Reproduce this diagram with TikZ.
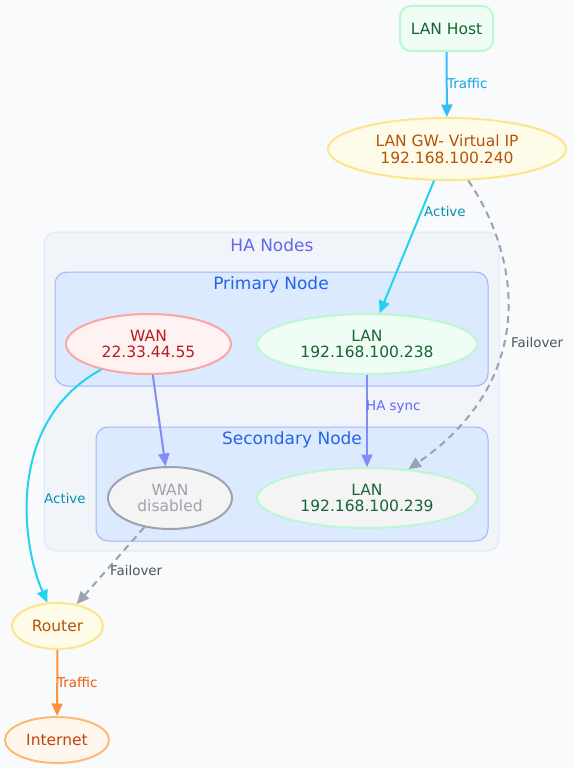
\documentclass[tikz,border=0pt]{standalone}
\usepackage{fontspec}
\setmainfont{DejaVu Sans}
\usetikzlibrary{shapes.geometric,arrows.meta}

\definecolor{cBg}{HTML}{F8FAFC}
\definecolor{cGreenFill}{HTML}{F0FDF4}
\definecolor{cGreenLine}{HTML}{BBF7D0}
\definecolor{cGreenTxt}{HTML}{166534}
\definecolor{cYellowFill}{HTML}{FEFCE8}
\definecolor{cYellowLine}{HTML}{FDE68A}
\definecolor{cYellowTxt}{HTML}{B45309}
\definecolor{cRedFill}{HTML}{FEF2F2}
\definecolor{cRedLine}{HTML}{FCA5A5}
\definecolor{cRedTxt}{HTML}{B91C1C}
\definecolor{cGrayFill}{HTML}{F4F4F5}
\definecolor{cGrayLine}{HTML}{9CA3AF}
\definecolor{cOrangeFill}{HTML}{FFF7ED}
\definecolor{cOrangeLine}{HTML}{FDBA74}
\definecolor{cOrangeTxt}{HTML}{C2410C}
\definecolor{cHaFill}{HTML}{F1F5F9}
\definecolor{cHaLine}{HTML}{E0E7FF}
\definecolor{cHaTxt}{HTML}{6366F1}
\definecolor{cNodeFill}{HTML}{DBEAFE}
\definecolor{cNodeLine}{HTML}{A5B4FC}
\definecolor{cNodeTxt}{HTML}{2563EB}
\definecolor{cTraffic}{HTML}{38BDF8}
\definecolor{cTrafficTxt}{HTML}{0EA5E9}
\definecolor{cActive}{HTML}{22D3EE}
\definecolor{cActiveTxt}{HTML}{0891B2}
\definecolor{cSync}{HTML}{818CF8}
\definecolor{cFail}{HTML}{9CA3AF}
\definecolor{cFailTxt}{HTML}{4B5563}
\definecolor{cWan}{HTML}{FB923C}
\definecolor{cWanTxt}{HTML}{EA580C}

\begin{document}
\begin{tikzpicture}[x=1pt,y=-1pt,
    every node/.style={font=\fontsize{15.5}{16.5}\selectfont, align=center, inner sep=0pt},
    oval/.style={ellipse, line width=2pt},
    cluster/.style={rounded corners=12pt, line width=1pt},
    flow/.style={line width=2pt, -{Triangle[length=12.5pt,width=11pt]}},
    failover/.style={flow, color=cFail, dash pattern=on 7pt off 5pt},
    edgelabel/.style={font=\fontsize{13.4}{14}\selectfont, anchor=west},
    clusterlabel/.style={font=\fontsize{17}{18}\selectfont}]
    \fill[cBg] (0,0) rectangle (574,768);
    \useasboundingbox (0,0) rectangle (574,768);

    \coordinate (H) at (446.5,28.5);
    \coordinate (G) at (447,149);
    \coordinate (W1) at (148.5,344);
    \coordinate (L1) at (367,344);
    \coordinate (W2) at (170,498);
    \coordinate (L2) at (367,498);
    \coordinate (R) at (57.5,626);
    \coordinate (I) at (57,740);

    \node [cluster, fill=cHaFill, draw=cHaLine, minimum width=455pt, minimum height=319pt] (ha) at (271.5,391.5) {};
    \node [cluster, fill=cNodeFill, draw=cNodeLine, minimum width=433pt, minimum height=114pt] (prim) at (271.5,329) {};
    \node [cluster, fill=cNodeFill, draw=cNodeLine, minimum width=392pt, minimum height=114pt] (sec) at (292,484) {};
    \node [clusterlabel, text=cHaTxt] (haLabel) at (272,245) {HA Nodes};
    \node [clusterlabel, text=cNodeTxt] (primLabel) at (271,285) {Primary Node};
    \node [clusterlabel, text=cNodeTxt] (secLabel) at (292,440) {Secondary Node};

    \node [rounded corners=11pt, line width=2pt, fill=cGreenFill, draw=cGreenLine, text=cGreenTxt, minimum width=93pt, minimum height=45pt] (host) at (H) {LAN Host};
    \node [oval, fill=cYellowFill, draw=cYellowLine, text=cYellowTxt, minimum width=238pt, minimum height=62pt] (gw) at (G) {LAN GW- Virtual IP\\192.168.100.240};
    \node [oval, fill=cRedFill, draw=cRedLine, text=cRedTxt, minimum width=165pt, minimum height=60pt] (wan1) at (W1) {WAN\\22.33.44.55};
    \node [oval, fill=cGreenFill, draw=cGreenLine, text=cGreenTxt, minimum width=220pt, minimum height=60pt] (lan1) at (L1) {LAN\\192.168.100.238};
    \node [oval, fill=cGrayFill, draw=cGrayLine, text=cGrayLine, minimum width=124pt, minimum height=62pt] (wan2) at (W2) {WAN\\disabled};
    \node [oval, fill=cGrayFill, draw=cGreenLine, text=cGreenTxt, minimum width=220pt, minimum height=60pt] (lan2) at (L2) {LAN\\192.168.100.239};
    \node [oval, fill=cYellowFill, draw=cYellowLine, text=cYellowTxt, minimum width=91pt, minimum height=46pt] (router) at (R) {Router};
    \node [oval, fill=cOrangeFill, draw=cOrangeLine, text=cOrangeTxt, minimum width=104pt, minimum height=46pt] (inet) at (I) {Internet};

    \draw [flow, color=cTraffic] (host) -- (gw);
    \draw [flow, color=cActive] (gw) -- (lan1);
    \draw [failover] (gw) .. controls (522,260) and (537,380) .. (lan2);
    \draw [flow, color=cSync] (wan1) -- (wan2);
    \draw [flow, color=cSync] (lan1) -- (lan2);
    \draw [flow, color=cActive] (wan1) .. controls (8,420) and (20,540) .. (router);
    \draw [failover] (wan2) -- (router);
    \draw [flow, color=cWan] (router) -- (inet);

    \node [edgelabel, text=cTrafficTxt] (trafficTop) at (447,84) {Traffic};
    \node [edgelabel, text=cActiveTxt] (activeTop) at (424,212) {Active};
    \node [edgelabel, text=cFailTxt] (failTop) at (511,343) {Failover};
    \node [edgelabel, text=cHaTxt] (syncLabel) at (366,407) {HA sync};
    \node [edgelabel, text=cActiveTxt] (activeLow) at (44,498) {Active};
    \node [edgelabel, text=cFailTxt] (failLow) at (110,570) {Failover};
    \node [edgelabel, text=cWanTxt] (trafficLow) at (57,682) {Traffic};
\end{tikzpicture}
\end{document}
